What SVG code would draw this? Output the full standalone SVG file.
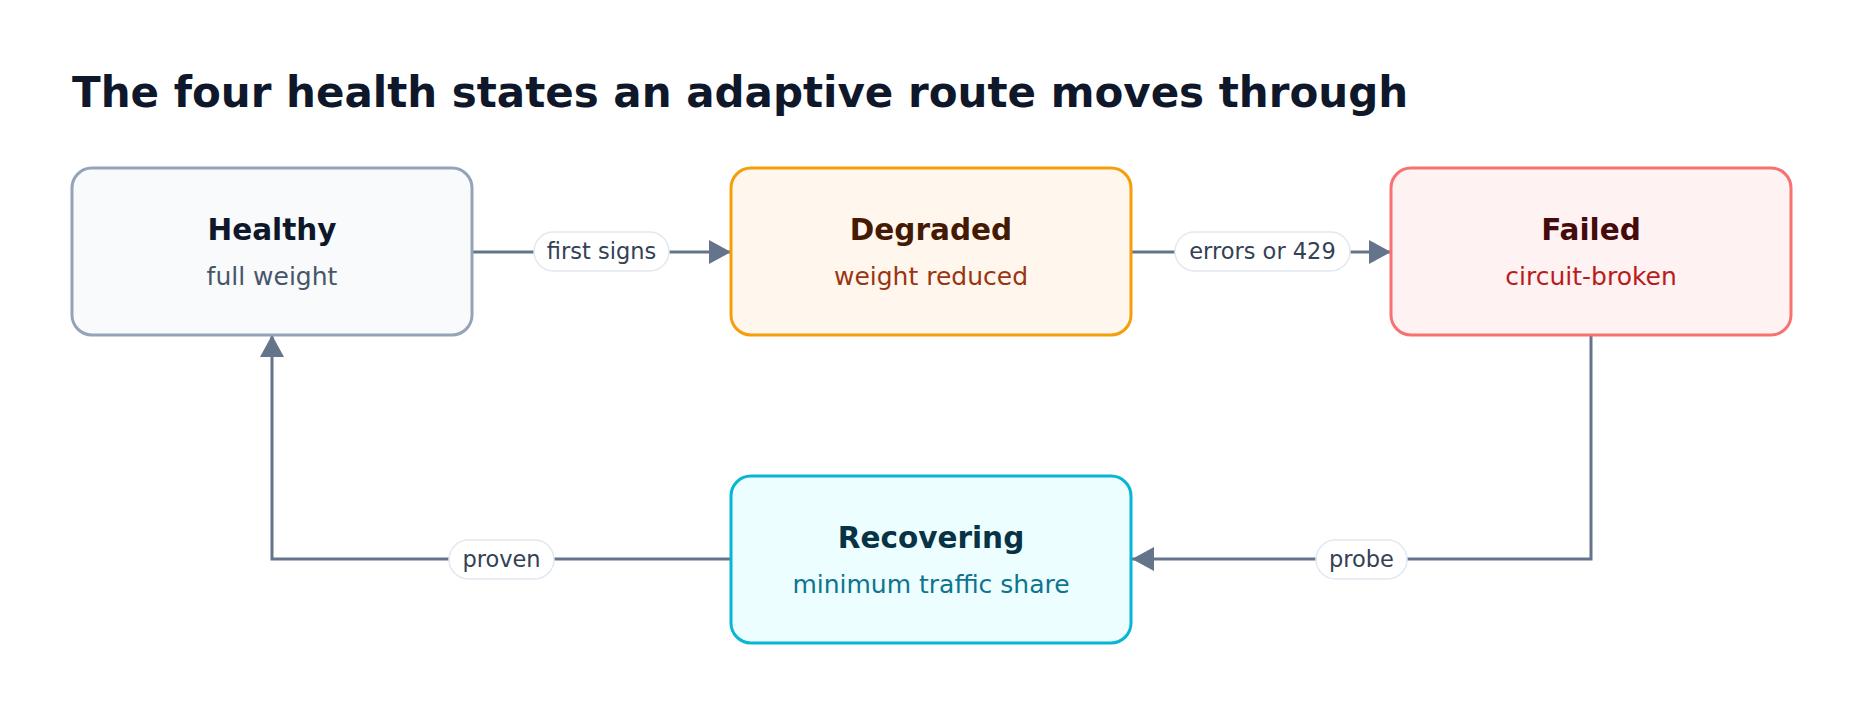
<svg xmlns="http://www.w3.org/2000/svg" width="1864" height="716" viewBox="0 0 1864 716">
<style>
text{font-family:"DejaVu Sans","Liberation Sans",sans-serif;text-anchor:middle}
.t{font-size:29.5px;font-weight:bold}
.s{font-size:25px}
.e{fill:none;stroke:#64748b;stroke-width:3}
.p{fill:#fff;stroke:#e2e8f0;stroke-width:1.5}
.l{font-size:22.5px;fill:#334155}
</style>
<defs><marker id="a" viewBox="0 0 22 24" refX="22" refY="12" markerWidth="22" markerHeight="24" markerUnits="userSpaceOnUse" orient="auto"><path d="M0 0L22 12L0 24Z" fill="#64748b"/></marker></defs>
<rect width="1864" height="716" fill="#fff"/>
<text x="72" y="107" style="font-size:42px;font-weight:bold;text-anchor:start" fill="#0f172a">The four health states an adaptive route moves through</text>
<g id="connectors">
<path class="e" d="M472 252H731" marker-end="url(#a)"/>
<path class="e" d="M1132 252H1391" marker-end="url(#a)"/>
<path class="e" d="M1591 335V559H1132" marker-end="url(#a)"/>
<path class="e" d="M731 559H272V335" marker-end="url(#a)"/>
<rect class="p" x="534" y="232" width="135" height="39" rx="19.5"/><text class="l" x="601.5" y="259">first signs</text>
<rect class="p" x="1175" y="232" width="175" height="39" rx="19.5"/><text class="l" x="1262.5" y="259">errors or 429</text>
<rect class="p" x="1316" y="540" width="91" height="39" rx="19.5"/><text class="l" x="1361.5" y="567">probe</text>
<rect class="p" x="449" y="540" width="105" height="39" rx="19.5"/><text class="l" x="501.5" y="567">proven</text>
</g>
<g id="healthy"><rect x="72" y="168" width="400" height="167" rx="20" fill="#f8fafc" stroke="#94a3b8" stroke-width="3"/><text class="t" x="272" y="240" fill="#0f172a">Healthy</text><text class="s" x="272" y="285" fill="#475569">full weight</text></g>
<g id="degraded"><rect x="731" y="168" width="400" height="167" rx="20" fill="#fff7ed" stroke="#f59e0b" stroke-width="3"/><text class="t" x="931" y="240" fill="#451a03">Degraded</text><text class="s" x="931" y="285" fill="#9a3412">weight reduced</text></g>
<g id="failed"><rect x="1391" y="168" width="400" height="167" rx="20" fill="#fef2f2" stroke="#f87171" stroke-width="3"/><text class="t" x="1591" y="240" fill="#450a0a">Failed</text><text class="s" x="1591" y="285" fill="#b91c1c">circuit-broken</text></g>
<g id="recovering"><rect x="731" y="476" width="400" height="167" rx="20" fill="#ecfeff" stroke="#06b6d4" stroke-width="3"/><text class="t" x="931" y="548" fill="#083344">Recovering</text><text class="s" x="931" y="593" fill="#0e7490">minimum traffic share</text></g>
</svg>
